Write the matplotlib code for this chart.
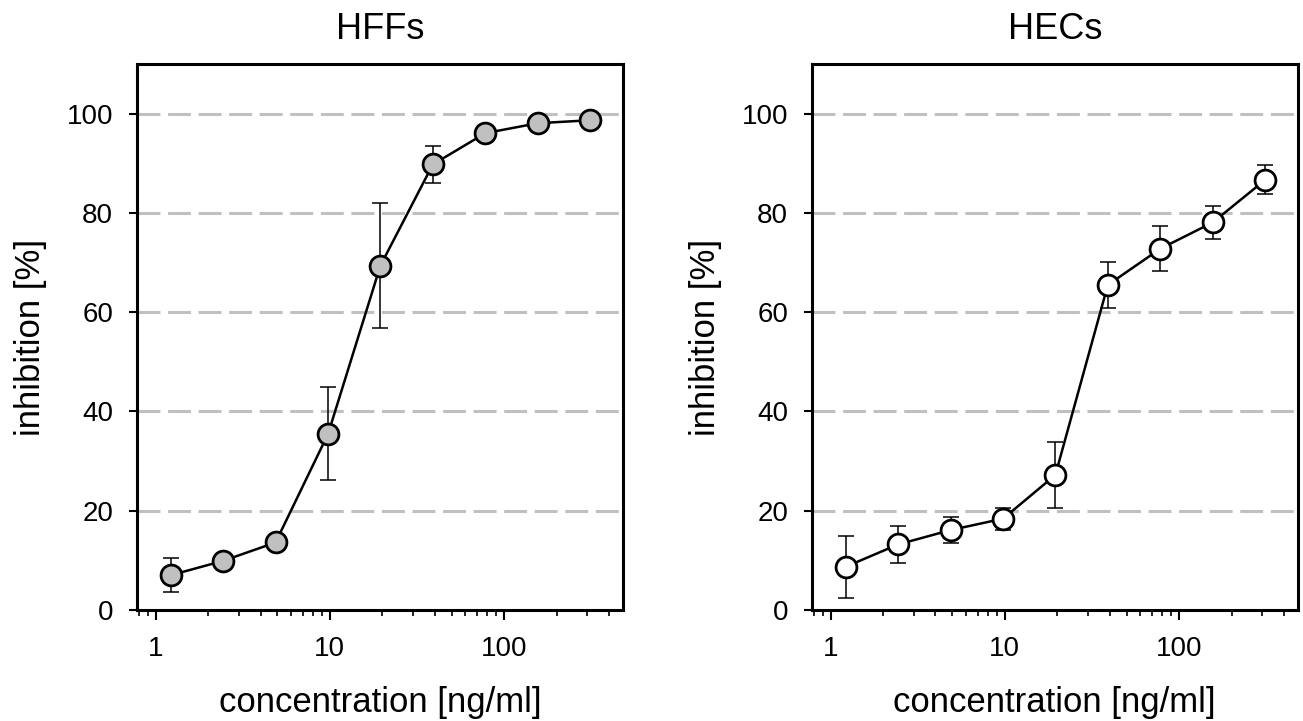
import matplotlib
matplotlib.use("Agg")
import matplotlib.pyplot as plt
from matplotlib.ticker import FormatStrFormatter, LogLocator, NullFormatter

plt.rcParams['font.family'] = ['Liberation Sans', 'DejaVu Sans']
plt.rcParams['xtick.labelsize'] = 20
plt.rcParams['ytick.labelsize'] = 20

conc = [1.22, 2.44, 4.88, 9.77, 19.5, 39.0, 78.0, 156.0, 312.5]

hff_mean = [7.0, 9.9, 13.6, 35.5, 69.4, 89.8, 96.1, 98.1, 98.7]
hff_err = [3.4, 0.0, 0.0, 9.4, 12.6, 3.8, 0.0, 0.0, 0.0]

hec_mean = [8.7, 13.2, 16.1, 18.4, 27.2, 65.5, 72.8, 78.1, 86.7]
hec_err = [6.3, 3.8, 2.7, 2.2, 6.6, 4.7, 4.5, 3.3, 2.9]

titles = ["HFFs", "HECs"]
face_colors = ["#c0c0c0", "white"]
grid_levels = [20, 40, 60, 80, 100]


def draw_panel(ax, mean, err, title, face):
    for g in grid_levels:
        ax.axhline(g, color="#c0c0c0", lw=2.2, dashes=(7.5, 2.5), zorder=1)
    ax.errorbar(conc, mean, yerr=err, fmt='none', ecolor='black',
                elinewidth=1.1, capsize=5.8, capthick=1.1, zorder=2)
    ax.plot(conc, mean, color='black', lw=1.8, marker='o', markersize=15,
            markerfacecolor=face, markeredgecolor='black',
            markeredgewidth=2.0, zorder=3)

    ax.set_xscale('log')
    ax.set_xlim(0.78, 480)
    ax.set_ylim(0, 110)
    ax.set_yticks([0, 20, 40, 60, 80, 100])
    ax.xaxis.set_major_locator(LogLocator(base=10, numticks=10))
    ax.xaxis.set_major_formatter(FormatStrFormatter('%g'))
    ax.xaxis.set_minor_locator(LogLocator(base=10, subs=range(2, 10), numticks=10))
    ax.xaxis.set_minor_formatter(NullFormatter())

    ax.tick_params(axis='y', which='major', direction='out', length=6,
                   width=1.5, pad=11)
    ax.tick_params(axis='x', which='major', direction='out', length=7,
                   width=1.5, pad=12)
    ax.tick_params(axis='x', which='minor', direction='out', length=4.5,
                   width=1.2)
    for sp in ax.spines.values():
        sp.set_linewidth(2.2)

    ax.set_title(title, fontsize=26, pad=18)
    ax.set_xlabel("concentration [ng/ml]", fontsize=25, labelpad=17)
    ax.set_ylabel("inhibition [%]", fontsize=25, labelpad=14)


fig = plt.figure(figsize=(13.03, 7.21), dpi=100)
ax1 = fig.add_axes([0.105, 0.154, 0.373, 0.757])
ax2 = fig.add_axes([0.623, 0.154, 0.373, 0.757])

draw_panel(ax1, hff_mean, hff_err, titles[0], face_colors[0])
draw_panel(ax2, hec_mean, hec_err, titles[1], face_colors[1])

fig.savefig("out.png", dpi=100)
